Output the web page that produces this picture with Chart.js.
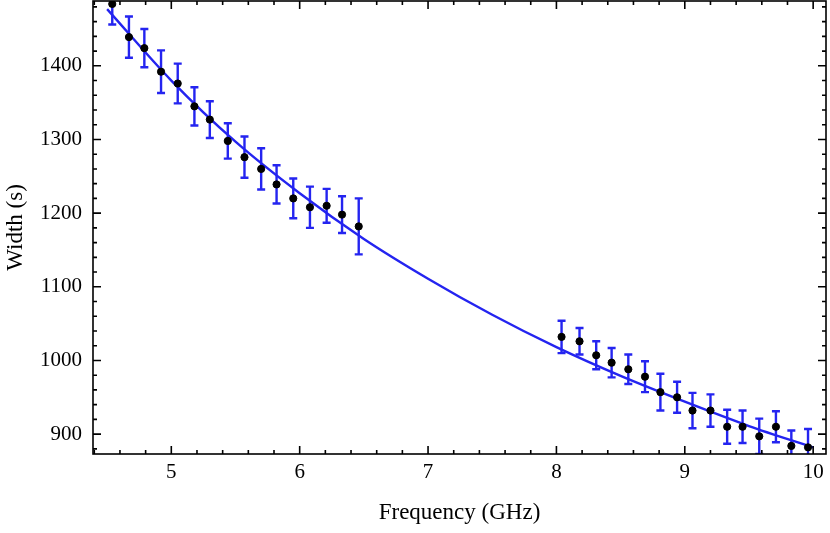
<!DOCTYPE html>
<html>
<head>
<meta charset="utf-8">
<script src="https://cdn.jsdelivr.net/npm/chart.js@4"></script>
<style>
  html, body { margin: 0; background: #fff; }
  #wrap { width: 830px; height: 533px; }
</style>
</head>
<body>
<div id="wrap"><canvas id="chart"></canvas></div>
<script>
// measured points (GHz, s) and their error bars
const freq = [4.54, 4.67, 4.79, 4.92, 5.05, 5.18, 5.30, 5.44, 5.57, 5.70, 5.82, 5.95, 6.08, 6.21, 6.33, 6.46,
              8.04, 8.18, 8.31, 8.43, 8.56, 8.69, 8.81, 8.94, 9.06, 9.20, 9.33, 9.45, 9.58, 9.71, 9.83, 9.96];
const width = [1484, 1439, 1424, 1392, 1376, 1345, 1327, 1298, 1276, 1260, 1239, 1220, 1208, 1210, 1198, 1182,
               1032, 1026, 1007, 997, 988, 978, 957, 950, 932, 932, 910, 910, 897, 910, 884, 882];
const err = [28, 28, 26, 29, 27, 26, 25, 24, 28, 28, 26, 27, 28, 23, 25, 38,
             22, 18, 19, 20, 20, 21, 25, 21, 24, 22, 23, 22, 24, 21, 21, 25];

// fit curve
const fitFreq = [4.5, 5, 5.5, 6, 6.5, 7, 7.5, 8, 8.5, 9, 9.5, 10];
const fitWidth = [1477, 1380, 1297, 1227, 1165, 1111, 1062, 1018, 979, 944, 911, 882];

const xTicks = [5, 6, 7, 8, 9, 10];
const yTicks = [900, 1000, 1100, 1200, 1300, 1400];

const blue = '#2424f0';
const serif = '"Liberation Serif", "DejaVu Serif", serif';

// error bars under the dots
const errorBars = {
  id: 'errorBars',
  beforeDatasetsDraw(chart) {
    const { ctx, chartArea: a, scales: { x, y } } = chart;
    ctx.save();
    ctx.beginPath();
    ctx.rect(a.left, a.top, a.right - a.left, a.bottom - a.top);
    ctx.clip();
    ctx.strokeStyle = blue;
    ctx.lineWidth = 2.4;
    freq.forEach((f, i) => {
      const px = x.getPixelForValue(f);
      const top = y.getPixelForValue(width[i] + err[i]);
      const bot = y.getPixelForValue(width[i] - err[i]);
      ctx.beginPath();
      ctx.moveTo(px, top); ctx.lineTo(px, bot);
      ctx.moveTo(px - 4, top); ctx.lineTo(px + 4, top);
      ctx.moveTo(px - 4, bot); ctx.lineTo(px + 4, bot);
      ctx.stroke();
    });
    ctx.restore();
  }
};

// frame with inward ticks on all four sides
const frame = {
  id: 'frame',
  afterDraw(chart) {
    const { ctx, chartArea: a, scales: { x, y } } = chart;
    ctx.save();
    ctx.strokeStyle = '#000';
    ctx.lineWidth = 1.6;
    ctx.strokeRect(a.left, a.top, a.right - a.left, a.bottom - a.top);
    ctx.beginPath();
    for (let v = 4.4; v <= 10.1; v += 0.2) {
      const vv = Math.round(v * 10) / 10;
      const px = x.getPixelForValue(vv);
      if (px < a.left + 1 || px > a.right - 1) continue;
      const len = Number.isInteger(vv) ? 8 : 4;
      ctx.moveTo(px, a.bottom); ctx.lineTo(px, a.bottom - len);
      ctx.moveTo(px, a.top); ctx.lineTo(px, a.top + len);
    }
    for (let v = 880; v <= 1480; v += 20) {
      const py = y.getPixelForValue(v);
      if (py < a.top + 1 || py > a.bottom - 1) continue;
      const len = v % 100 === 0 ? 8 : 4;
      ctx.moveTo(a.left, py); ctx.lineTo(a.left + len, py);
      ctx.moveTo(a.right, py); ctx.lineTo(a.right - len, py);
    }
    ctx.stroke();
    ctx.restore();
  }
};

new Chart(document.getElementById('chart'), {
  type: 'scatter',
  data: {
    datasets: [
      {
        label: 'data',
        data: freq.map((f, i) => ({ x: f, y: width[i] })),
        backgroundColor: '#000',
        borderColor: '#000',
        pointRadius: 3.6,
        pointHoverRadius: 3.6
      },
      {
        label: 'fit',
        data: fitFreq.map((f, i) => ({ x: f, y: fitWidth[i] })),
        showLine: true,
        borderColor: blue,
        borderWidth: 2.4,
        pointRadius: 0,
        cubicInterpolationMode: 'monotone'
      }
    ]
  },
  options: {
    responsive: true,
    maintainAspectRatio: false,
    animation: false,
    layout: { autoPadding: false, padding: { top: 1, right: 4, left: 0, bottom: 0 } },
    plugins: { legend: { display: false }, tooltip: { enabled: false } },
    scales: {
      x: {
        type: 'linear',
        min: 4.39,
        max: 10.1,
        grid: { display: false, drawTicks: false },
        border: { display: false },
        afterBuildTicks: s => { s.ticks = xTicks.map(v => ({ value: v })); },
        afterFit: s => { s.height = 79; s.paddingLeft = 0; s.paddingRight = 0; },
        ticks: { color: '#000', padding: 6, maxRotation: 0, callback: v => String(v),
                 font: { family: serif, size: 21 } },
        title: { display: true, text: 'Frequency (GHz)', color: '#000', padding: { top: 0, bottom: 6 },
                 font: { family: serif, size: 23 } }
      },
      y: {
        type: 'linear',
        min: 873,
        max: 1488,
        grid: { display: false, drawTicks: false },
        border: { display: false },
        afterBuildTicks: s => { s.ticks = yTicks.map(v => ({ value: v })); },
        afterFit: s => { s.width = 93; s.paddingTop = 0; s.paddingBottom = 0; },
        ticks: { color: '#000', padding: 11, callback: v => String(v),
                 font: { family: serif, size: 21 } },
        title: { display: true, text: 'Width (s)', color: '#000', padding: { top: 2, bottom: 0 },
                 font: { family: serif, size: 23 } }
      }
    }
  },
  plugins: [errorBars, frame]
});
</script>
</body>
</html>
